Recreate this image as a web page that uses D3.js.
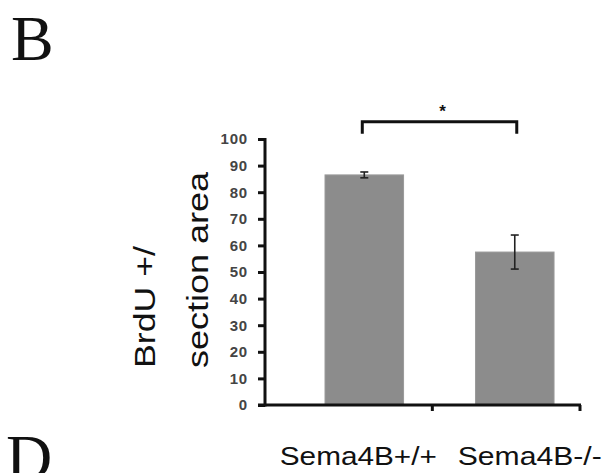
<!DOCTYPE html>
<html>
<head>
<meta charset="utf-8">
<script src="https://cdn.jsdelivr.net/npm/d3@7"></script>
<style>
  html, body { margin: 0; padding: 0; background: #fff; }
  svg { display: block; }
</style>
</head>
<body>
<div id="chart"></div>
<script>
// data
const categories = ['Sema4B+/+', 'Sema4B-/-'];
const means = [86.5, 57.5];
const errors = [1.1, 6.4];
const yTicks = [0, 10, 20, 30, 40, 50, 60, 70, 80, 90, 100];
const yLabelLines = ['BrdU +/', 'section area'];
const sigMark = '*';

const W = 605, H = 473;
const AXIS_X = 265, AXIS_Y = 405, AXIS_TOP = 139, AXIS_RIGHT = 581;

const svg = d3.select('#chart').append('svg')
    .attr('width', W)
    .attr('height', H);

const y = d3.scaleLinear().domain([0, 100]).range([AXIS_Y, AXIS_TOP]);
const x = d3.scaleBand()
    .domain(categories)
    .range([AXIS_X, AXIS_RIGHT])
    .paddingInner(0.478)
    .paddingOuter(0.289)
    .align(0.69);

// panel letters (D is cut by the bottom edge, as in the source figure)
svg.append('text').attr('x', 11).attr('y', 60)
    .attr('font-family', 'Liberation Serif, Times New Roman, serif')
    .attr('font-size', 64).attr('fill', '#111').text('B');
svg.append('text').attr('x', 6).attr('y', 479)
    .attr('font-family', 'Liberation Serif, Times New Roman, serif')
    .attr('font-size', 64).attr('fill', '#111').text('D');

// bars
svg.selectAll('rect.bar').data(categories).join('rect')
    .attr('class', 'bar')
    .attr('x', d => x(d))
    .attr('y', (d, i) => y(means[i]))
    .attr('width', x.bandwidth())
    .attr('height', (d, i) => y(0) - y(means[i]))
    .attr('fill', '#8c8c8c')
    .attr('stroke', '#9a9a9a')
    .attr('stroke-width', 1);

// error bars
const eb = svg.selectAll('g.err').data(categories).join('g')
    .attr('class', 'err')
    .attr('transform', d => `translate(${x(d) + x.bandwidth() / 2},0)`);
eb.append('line')
    .attr('y1', (d, i) => y(means[i] + errors[i]))
    .attr('y2', (d, i) => y(means[i] - errors[i]))
    .attr('stroke', '#222').attr('stroke-width', 1.6);
[1, -1].forEach(s => {
    eb.append('line')
        .attr('x1', -4).attr('x2', 4)
        .attr('y1', (d, i) => y(means[i] + s * errors[i]))
        .attr('y2', (d, i) => y(means[i] + s * errors[i]))
        .attr('stroke', '#222').attr('stroke-width', 1.6);
});

// y axis
const yAxis = svg.append('g')
    .attr('transform', `translate(${AXIS_X},0)`)
    .call(d3.axisLeft(y).tickValues(yTicks).tickSize(7).tickPadding(10).tickSizeOuter(0));
yAxis.select('.domain').attr('stroke', '#111').attr('stroke-width', 3)
    .attr('d', `M0,${AXIS_Y + 1.5}V${AXIS_TOP - 1}`);
yAxis.selectAll('.tick line').attr('stroke', '#111').attr('stroke-width', 3);
yAxis.selectAll('.tick text')
    .attr('font-family', 'Liberation Sans, Arial, sans-serif')
    .attr('font-size', 15).attr('font-weight', 'bold').attr('fill', '#444')
    .attr('letter-spacing', 0.8);

// x axis
const gapMid = x(categories[0]) + x.bandwidth() + (x(categories[1]) - x(categories[0]) - x.bandwidth()) * 0.4;
const xAx = svg.append('g');
xAx.append('line')
    .attr('x1', AXIS_X - 7).attr('x2', AXIS_RIGHT)
    .attr('y1', AXIS_Y).attr('y2', AXIS_Y)
    .attr('stroke', '#111').attr('stroke-width', 3);
xAx.selectAll('line.xt').data([gapMid, AXIS_RIGHT - 1]).join('line')
    .attr('class', 'xt')
    .attr('x1', d => d).attr('x2', d => d)
    .attr('y1', AXIS_Y).attr('y2', AXIS_Y + 6)
    .attr('stroke', '#111').attr('stroke-width', 3);

// category labels
const labelShift = [-6, 15];
const labelLen = [157, 144];
svg.selectAll('text.cat').data(categories).join('text')
    .attr('class', 'cat')
    .attr('x', (d, i) => x(d) + x.bandwidth() / 2 + labelShift[i])
    .attr('y', 465)
    .attr('text-anchor', 'middle')
    .attr('font-family', 'Liberation Sans, Arial, sans-serif')
    .attr('font-size', 25)
    .attr('fill', '#111')
    .attr('textLength', (d, i) => labelLen[i])
    .attr('lengthAdjust', 'spacingAndGlyphs')
    .text(d => d);

// y label (two lines, bottom aligned)
const yLabX = [155, 208];
const yLabLen = [122, 196];
yLabelLines.forEach((t, i) => {
    svg.append('text')
        .attr('transform', `translate(${yLabX[i]},368) rotate(-90)`)
        .attr('text-anchor', 'start')
        .attr('font-family', 'Liberation Sans, Arial, sans-serif')
        .attr('font-size', 29)
        .attr('fill', '#111')
        .attr('textLength', yLabLen[i])
        .attr('lengthAdjust', 'spacingAndGlyphs')
        .text(t);
});

// significance bracket
const c0 = x(categories[0]) + x.bandwidth() / 2 - 2;
const c1 = x(categories[1]) + x.bandwidth() / 2 + 2;
svg.append('path')
    .attr('d', `M${c0},${y(102)}V${y(106.5)}H${c1}V${y(102)}`)
    .attr('fill', 'none')
    .attr('stroke', '#111')
    .attr('stroke-width', 3);
svg.append('text')
    .attr('x', (c0 + c1) / 2 + 3)
    .attr('y', y(106.5) - 5)
    .attr('text-anchor', 'middle')
    .attr('font-family', 'Liberation Sans, Arial, sans-serif')
    .attr('font-size', 17)
    .attr('font-weight', 'bold')
    .attr('fill', '#111')
    .text(sigMark);
</script>
</body>
</html>
